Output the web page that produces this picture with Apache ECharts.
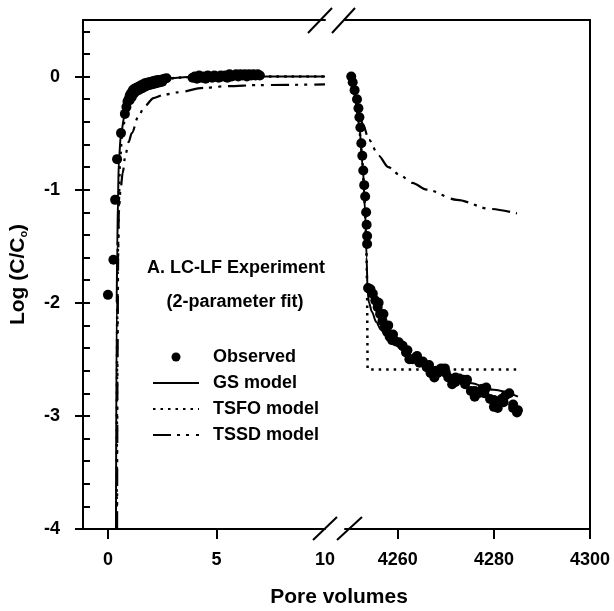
<!DOCTYPE html>
<html>
<head>
<meta charset="utf-8">
<script src="https://cdn.jsdelivr.net/npm/echarts@6/dist/echarts.min.js"></script>
<style>html,body{margin:0;padding:0;background:#fff}#c{width:614px;height:611px}</style>
</head>
<body>
<div id="c"></div>
<script>
// ---- data ----
var seriesNames = ['Observed', 'GS model', 'TSFO model', 'TSSD model'];
var xTicksLeft = [0, 5, 10];
var xTicksRight = [4260, 4280, 4300];
var yTicks = [-4, -3, -2, -1, 0];
var yMinorTicks = [-4,-3.8,-3.6,-3.4,-3.2,-3,-2.8,-2.6,-2.4,-2.2,-2,-1.8,-1.6,-1.4,-1.2,-1,-0.8,-0.6,-0.4,-0.2,0,0.2,0.4];

var obsLeft = [
[0.0,-1.93],[0.25,-1.62],[0.33,-1.09],[0.42,-0.73],[0.6,-0.5],[0.78,-0.33],
[0.85,-0.27],[0.9,-0.22],[0.95,-0.2],[1.0,-0.17],[1.05,-0.15],[1.1,-0.14],[1.15,-0.12],[1.2,-0.11],
[1.3,-0.1],[1.4,-0.09],[1.5,-0.08],[1.6,-0.07],[1.7,-0.06],[1.8,-0.055],[1.9,-0.05],[2.0,-0.045],
[2.1,-0.04],[2.2,-0.035],[2.3,-0.03],[2.4,-0.03],[2.5,-0.025],[2.6,-0.02],[2.7,-0.015],
[1.0,-0.21],[1.1,-0.18],[1.2,-0.15],[1.3,-0.13],[1.4,-0.12],[1.5,-0.11],[1.6,-0.1],[1.7,-0.09],
[1.8,-0.08],[1.9,-0.075],[2.0,-0.07],[2.1,-0.065],[2.2,-0.06],[2.3,-0.055],[2.4,-0.05],[2.5,-0.045],
[3.9,-0.01],[4.0,0.0],[4.1,-0.02],[4.2,0.01],[4.3,-0.01],[4.4,0.0],[4.5,-0.02],[4.6,0.01],[4.7,0.0],
[4.8,-0.01],[4.9,0.01],[5.0,0.0],[5.1,-0.01],[5.2,0.01],[5.3,0.0],[5.4,0.01],[5.5,-0.01],[5.6,0.02],
[5.7,0.0],[5.8,0.01],[5.9,0.02],[6.0,0.0],[6.1,0.02],[6.2,0.01],[6.3,0.02],[6.4,0.0],[6.5,0.02],
[6.6,0.01],[6.7,0.02],[6.8,0.01],[6.9,0.02],[7.0,0.01]
];
var obsRight = [
[4250.3,0.0],[4250.6,-0.05],[4251,-0.12],[4251.5,-0.2],[4251.8,-0.28],[4252,-0.36],[4252.2,-0.45],
[4252.4,-0.59],[4252.6,-0.7],[4252.8,-0.83],[4253,-0.96],[4253.2,-1.06],[4253.4,-1.2],[4253.5,-1.31],
[4253.6,-1.41],[4253.6,-1.48],
[4253.8,-1.87],[4254.3,-1.88],[4254.8,-1.92],[4255.3,-1.98],[4255.8,-2.04],[4256.3,-2.1],[4256.8,-2.16],
[4257.3,-2.21],[4257.8,-2.26],[4258.3,-2.3],[4258.8,-2.33],[4259.5,-2.34],[4260.2,-2.35],[4261,-2.38],
[4261.7,-2.44],[4262.4,-2.5],[4263.1,-2.5],[4263.8,-2.48],[4264.5,-2.53],[4265.2,-2.52],[4266,-2.57],
[4266.8,-2.62],[4267.6,-2.66],[4268.3,-2.62],[4269,-2.58],[4269.8,-2.58],[4270.5,-2.66],[4271.3,-2.72],
[4272,-2.7],[4272.8,-2.67],[4273.6,-2.68],[4274.4,-2.68],[4275.2,-2.78],[4276,-2.83],[4276.8,-2.8],
[4277.6,-2.76],[4278.4,-2.75],[4279.2,-2.85],[4280,-2.92],[4280.8,-2.93],[4281.6,-2.85],[4282.4,-2.82],
[4283.2,-2.8],[4284,-2.9],[4284.8,-2.97],[4285,-2.95],
[4256,-2.0],[4257,-2.1],[4258,-2.2],[4259,-2.28],[4262,-2.42],[4264,-2.47],[4266.5,-2.55],[4268,-2.6],
[4270,-2.62],[4272,-2.66],[4274,-2.72],[4276,-2.78],[4278,-2.8],[4280,-2.86],[4282,-2.88],[4284,-2.93]
];
var gsLeft = [[0.37,-4],[0.4,-2],[0.43,-1.5],[0.46,-1.1],[0.5,-0.75],[0.6,-0.5],[0.78,-0.33],[0.9,-0.23],
[1.1,-0.14],[1.5,-0.08],[2.0,-0.045],[2.5,-0.025],[3.0,-0.012],[4.0,0],[10,0]];
var tsfoLeft = [[0.4,-4],[0.43,-2],[0.46,-1.5],[0.5,-1.1],[0.55,-0.75],[0.65,-0.5],[0.82,-0.33],[1.0,-0.22],
[1.2,-0.14],[1.6,-0.08],[2.1,-0.045],[2.6,-0.025],[3.2,-0.01],[4.2,0],[10,0]];
var tssdLeft = [[0.42,-4],[0.44,-2.5],[0.47,-1.6],[0.5,-1.2],[0.58,-1.0],[0.68,-0.85],[0.8,-0.7],[0.95,-0.58],
[1.1,-0.5],[1.4,-0.35],[1.7,-0.26],[2.1,-0.19],[2.6,-0.16],[3.2,-0.14],[4.4,-0.1],[5.5,-0.085],[7.0,-0.075],[10,-0.07]];
var gsRight = [[4250,0.02],[4250.5,-0.05],[4251.2,-0.2],[4252,-0.45],[4252.7,-0.8],[4253.2,-1.2],[4253.5,-1.6],
[4253.7,-1.9],[4254,-2.0],[4254.6,-2.08],[4255.5,-2.17],[4256.5,-2.24],[4257.5,-2.29],[4258.8,-2.34],
[4261,-2.42],[4264,-2.5],[4267,-2.57],[4270,-2.63],[4275,-2.71],[4280,-2.77],[4285,-2.83]];
var tsfoRight = [[4250,0.02],[4250.5,-0.05],[4251.2,-0.2],[4252,-0.45],[4252.7,-0.8],[4253.2,-1.2],[4253.5,-1.6],
[4253.6,-1.9],[4253.7,-2.59],[4285,-2.59]];
var tssdRight = [[4250,0],[4251.5,-0.2],[4252.7,-0.42],[4254,-0.56],[4256,-0.7],[4258,-0.8],[4260.4,-0.87],
[4263,-0.94],[4266,-1.0],[4272.3,-1.09],[4279.2,-1.17],[4284.8,-1.21]];

// ---- chart ----
var FONT = "'Liberation Sans', Arial, Helvetica, sans-serif";
var BLACK = '#000';
var chart = echarts.init(document.getElementById('c'), null, {renderer: 'canvas'});

function lineStyle(kind) {
  if (kind === 'gs') return {color: BLACK, width: 2, type: 'solid'};
  if (kind === 'tsfo') return {color: BLACK, width: 2.5, type: [2.5, 5]};
  return {color: BLACK, width: 2.2, type: [18, 6, 3, 6, 3, 7]};
}
function lineSeries(name, kind, data, gi, smooth) {
  return {
    name: name, type: 'line', data: data, xAxisIndex: gi === 0 ? 0 : 2, yAxisIndex: gi === 0 ? 0 : 2,
    symbol: 'none', smooth: smooth, smoothMonotone: 'x', lineStyle: lineStyle(kind), itemStyle: {color: BLACK},
    z: 3, silent: true
  };
}
function plainNum(v) { return String(v); }

var option = {
  animation: false,
  backgroundColor: '#fff',
  grid: [
    {left: 83, top: 20, width: 242, height: 509, outerBoundsMode: 'none', containLabel: false},
    {left: 345, top: 20, width: 245, height: 509, outerBoundsMode: 'none', containLabel: false}
  ],
  xAxis: [
    {gridIndex: 0, type: 'value', position: 'bottom', min: -1.15, max: 10,
     axisLine: {show: true, onZero: false, lineStyle: {color: BLACK, width: 2}},
     axisTick: {show: true, inside: false, length: 10, lineStyle: {color: BLACK, width: 2}, customValues: [0, 5]},
     axisLabel: {show: true, margin: 22, customValues: xTicksLeft, showMinLabel: true, showMaxLabel: true,
                 formatter: plainNum, color: BLACK, fontSize: 18, fontWeight: 'bold', fontFamily: FONT},
     splitLine: {show: false}},
    {gridIndex: 0, type: 'value', position: 'top', min: -1.15, max: 10,
     axisLine: {show: true, onZero: false, lineStyle: {color: BLACK, width: 2}},
     axisTick: {show: false}, axisLabel: {show: false}, splitLine: {show: false}},
    {gridIndex: 1, type: 'value', position: 'bottom', min: 4249, max: 4300,
     axisLine: {show: true, onZero: false, lineStyle: {color: BLACK, width: 2}},
     axisTick: {show: true, inside: false, length: 10, lineStyle: {color: BLACK, width: 2}, customValues: xTicksRight},
     axisLabel: {show: true, margin: 22, customValues: xTicksRight, showMinLabel: true, showMaxLabel: true,
                 formatter: plainNum, color: BLACK, fontSize: 18, fontWeight: 'bold', fontFamily: FONT},
     splitLine: {show: false}},
    {gridIndex: 1, type: 'value', position: 'top', min: 4249, max: 4300,
     axisLine: {show: true, onZero: false, lineStyle: {color: BLACK, width: 2}},
     axisTick: {show: false}, axisLabel: {show: false}, splitLine: {show: false}}
  ],
  yAxis: [
    {gridIndex: 0, type: 'value', position: 'left', min: -4, max: 0.5,
     axisLine: {show: true, onZero: false, lineStyle: {color: BLACK, width: 2}},
     axisTick: {show: true, inside: false, length: 8, lineStyle: {color: BLACK, width: 2}, customValues: yTicks},
     axisLabel: {show: true, margin: 23, customValues: yTicks, formatter: plainNum, color: BLACK, fontSize: 18, fontWeight: 'bold', fontFamily: FONT},
     splitLine: {show: false},
     name: 'Log (C/C{sub|o})', nameLocation: 'middle', nameGap: 54, nameRotate: 90,
     nameTextStyle: {color: BLACK, fontSize: 21, fontWeight: 'bold', fontFamily: FONT,
       rich: {sub: {fontSize: 11, fontWeight: 'bold', fontFamily: FONT, color: BLACK, verticalAlign: 'bottom', padding: [8, 0, 0, 0]}}}},
    {gridIndex: 0, type: 'value', position: 'left', min: -4, max: 0.5,
     axisLine: {show: false, onZero: false},
     axisTick: {show: true, inside: true, length: 7, lineStyle: {color: BLACK, width: 2}, customValues: yMinorTicks},
     axisLabel: {show: false}, splitLine: {show: false}},
    {gridIndex: 1, type: 'value', position: 'right', min: -4, max: 0.5,
     axisLine: {show: true, onZero: false, lineStyle: {color: BLACK, width: 2}},
     axisTick: {show: false}, axisLabel: {show: false}, splitLine: {show: false}}
  ],
  legend: {
    orient: 'vertical', left: 152, top: 348, padding: 0, itemWidth: 46, itemHeight: 9, itemGap: 8,
    selectedMode: false,
    textStyle: {color: BLACK, fontSize: 18, fontWeight: 'bold', fontFamily: FONT, padding: [0, 0, 0, 9]},
    data: [
      {name: seriesNames[0]},
      {name: seriesNames[1], itemStyle: {opacity: 0}},
      {name: seriesNames[2], itemStyle: {opacity: 0}},
      {name: seriesNames[3], itemStyle: {opacity: 0}}
    ]
  },
  graphic: [
    {type: 'text', style: {text: 'A. LC-LF Experiment', x: 236, y: 268, align: 'center', verticalAlign: 'middle',
      font: 'bold 18px ' + FONT, fill: BLACK}},
    {type: 'text', style: {text: '(2-parameter fit)', x: 235, y: 302, align: 'center', verticalAlign: 'middle',
      font: 'bold 18px ' + FONT, fill: BLACK}},
    {type: 'text', style: {text: 'Pore volumes', x: 339, y: 597, align: 'center', verticalAlign: 'middle',
      font: 'bold 21px ' + FONT, fill: BLACK}},
    // axis break marks
    {type: 'line', shape: {x1: 308, y1: 33, x2: 332, y2: 8}, style: {stroke: BLACK, lineWidth: 2}},
    {type: 'line', shape: {x1: 332, y1: 33, x2: 355, y2: 8}, style: {stroke: BLACK, lineWidth: 2}},
    {type: 'line', shape: {x1: 313, y1: 540, x2: 337, y2: 517}, style: {stroke: BLACK, lineWidth: 2}},
    {type: 'line', shape: {x1: 337, y1: 540, x2: 362, y2: 517}, style: {stroke: BLACK, lineWidth: 2}}
  ],
  series: [
    lineSeries('GS model', 'gs', gsLeft, 0, 0.3),
    lineSeries('TSFO model', 'tsfo', tsfoLeft, 0, 0.3),
    lineSeries('TSSD model', 'tssd', tssdLeft, 0, 0.3),
    lineSeries('GS model', 'gs', gsRight, 1, 0.3),
    lineSeries('TSFO model', 'tsfo', tsfoRight, 1, false),
    lineSeries('TSSD model', 'tssd', tssdRight, 1, 0.3),
    {name: 'Observed', type: 'scatter', data: obsLeft, xAxisIndex: 0, yAxisIndex: 0, symbol: 'circle', symbolSize: 10,
     itemStyle: {color: BLACK, opacity: 1}, z: 4, silent: true},
    {name: 'Observed', type: 'scatter', data: obsRight, xAxisIndex: 2, yAxisIndex: 2, symbol: 'circle', symbolSize: 10,
     itemStyle: {color: BLACK, opacity: 1}, z: 4, silent: true}
  ]
};
chart.setOption(option);
</script>
</body>
</html>
